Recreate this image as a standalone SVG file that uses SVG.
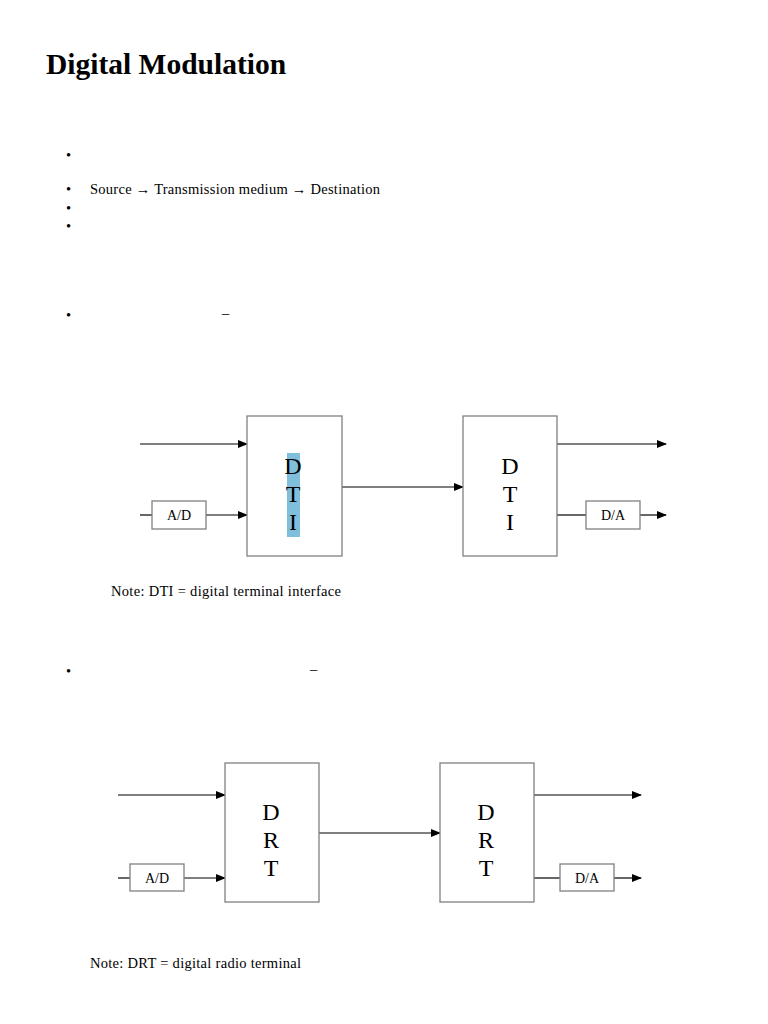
<svg xmlns="http://www.w3.org/2000/svg" width="768" height="1024" viewBox="0 0 768 1024">
<style>
.t{font-family:"Liberation Serif",serif;fill:#000}
.b{fill:#fff;stroke:#808080;stroke-width:1.3}
.l{stroke:#000;stroke-width:1.2;fill:none}
.big{font-size:24px;text-anchor:middle}
.sm{font-size:14px;text-anchor:middle}
</style>
<defs><marker id="a" markerWidth="10" markerHeight="8" refX="9" refY="4" orient="auto" markerUnits="userSpaceOnUse"><path d="M0,0 L10,4 L0,8z" fill="#000"/></marker></defs>
<rect width="768" height="1024" fill="#fff"/>
<text class="t" x="46" y="74" font-size="29.5" font-weight="bold">Digital Modulation</text>
<g class="t" font-size="14.5">
<text x="66" y="160">•</text>
<text x="66" y="194">•</text><text x="90" y="194" textLength="290">Source → Transmission medium → Destination</text>
<text x="66" y="213">•</text>
<text x="66" y="231">•</text>
<text x="66" y="320">•</text><text x="222" y="318">–</text>
<text x="66" y="676">•</text><text x="310" y="674">–</text>
</g>
<g id="connectors">
<line class="l" x1="140" y1="444" x2="247" y2="444" marker-end="url(#a)"/>
<line class="l" x1="140" y1="515" x2="152" y2="515"/>
<line class="l" x1="206" y1="515" x2="247" y2="515" marker-end="url(#a)"/>
<line class="l" x1="342" y1="487" x2="463" y2="487" marker-end="url(#a)"/>
<line class="l" x1="557" y1="444" x2="666" y2="444" marker-end="url(#a)"/>
<line class="l" x1="557" y1="515" x2="586" y2="515"/>
<line class="l" x1="640" y1="515" x2="666" y2="515" marker-end="url(#a)"/>
<line class="l" x1="118" y1="795" x2="225" y2="795" marker-end="url(#a)"/>
<line class="l" x1="118" y1="878" x2="130" y2="878"/>
<line class="l" x1="184" y1="878" x2="225" y2="878" marker-end="url(#a)"/>
<line class="l" x1="319" y1="833" x2="440" y2="833" marker-end="url(#a)"/>
<line class="l" x1="534" y1="795" x2="641" y2="795" marker-end="url(#a)"/>
<line class="l" x1="534" y1="878" x2="560" y2="878"/>
<line class="l" x1="614" y1="878" x2="641" y2="878" marker-end="url(#a)"/>
</g>
<g id="dti1"><rect class="b" x="247" y="416" width="95" height="140"/><rect x="287" y="453" width="13" height="84" fill="#7fbfdc"/>
<text class="t big" x="293" y="474">D</text><text class="t big" x="293" y="502">T</text><text class="t big" x="293" y="530">I</text></g>
<g id="ad1"><rect class="b" x="152" y="501" width="54" height="28"/><text class="t sm" x="179" y="520">A/D</text></g>
<g id="dti2"><rect class="b" x="463" y="416" width="94" height="140"/>
<text class="t big" x="510" y="474">D</text><text class="t big" x="510" y="502">T</text><text class="t big" x="510" y="530">I</text></g>
<g id="da1"><rect class="b" x="586" y="501" width="54" height="28"/><text class="t sm" x="613" y="520">D/A</text></g>
<text class="t" x="111" y="596" font-size="14.5" textLength="230">Note: DTI = digital terminal interface</text>
<g id="drt1"><rect class="b" x="225" y="763" width="94" height="139"/>
<text class="t big" x="271" y="820">D</text><text class="t big" x="271" y="848">R</text><text class="t big" x="271" y="876">T</text></g>
<g id="ad2"><rect class="b" x="130" y="864" width="54" height="27"/><text class="t sm" x="157" y="883">A/D</text></g>
<g id="drt2"><rect class="b" x="440" y="763" width="94" height="139"/>
<text class="t big" x="486" y="820">D</text><text class="t big" x="486" y="848">R</text><text class="t big" x="486" y="876">T</text></g>
<g id="da2"><rect class="b" x="560" y="864" width="54" height="27"/><text class="t sm" x="587" y="883">D/A</text></g>
<text class="t" x="90" y="968" font-size="14.5" textLength="211">Note: DRT = digital radio terminal</text>
</svg>
